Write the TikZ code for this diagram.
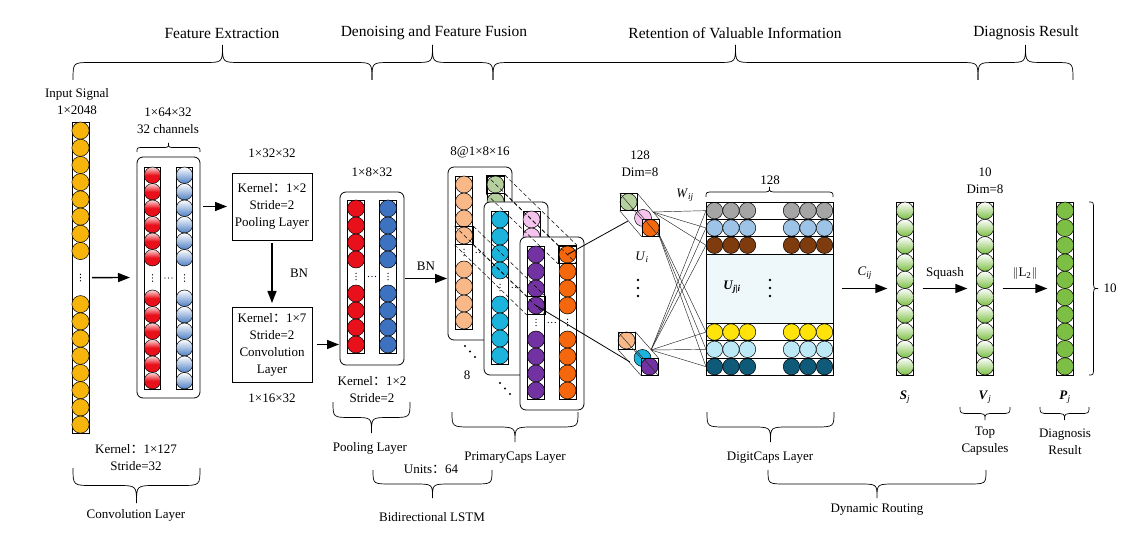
\documentclass[tikz,border=0pt]{standalone}
\usepackage{fontspec}
\setmainfont{Liberation Serif}
\newfontfamily\cjk{Noto Sans CJK SC}
\usetikzlibrary{positioning,arrows.meta}
\definecolor{amarillo}{HTML}{F7B50C}
\definecolor{rojo}{HTML}{E8101A}
\definecolor{azulc}{HTML}{4E7FC4}
\definecolor{azulp}{HTML}{3D72C0}
\definecolor{melocoton}{HTML}{F8B888}
\definecolor{verdeg}{HTML}{B5D09E}
\definecolor{cian}{HTML}{1CB3DD}
\definecolor{rosa}{HTML}{F5C4EE}
\definecolor{morado}{HTML}{7232A2}
\definecolor{naranja}{HTML}{F4670C}
\definecolor{gris}{HTML}{A5A5A5}
\definecolor{azulcl}{HTML}{9DC3E6}
\definecolor{marron}{HTML}{7E3B0E}
\definecolor{amarillo2}{HTML}{FFE30A}
\definecolor{celeste}{HTML}{BDE9F6}
\definecolor{petroleo}{HTML}{0F5A78}
\definecolor{verdev}{HTML}{7CBF44}
\definecolor{fondo}{HTML}{EEF8FB}

\tikzset{
  bola/.style={circle, draw, inner sep=0pt, outer sep=0pt, line width=0.5pt},
  colum/.style={draw, fill=white, inner sep=0pt, outer sep=0pt, anchor=north, line width=0.6pt},
  bloque/.style={draw, fill=white, rounded corners=6pt, inner sep=0pt, outer sep=0pt, line width=0.8pt, anchor=north west},
  caja/.style={draw, fill=white, align=center, inner sep=2pt, outer sep=0pt, line width=0.7pt},
  marco/.style={draw, inner sep=0pt, minimum width=18pt, minimum height=18pt, line width=0.7pt},
  cuadro/.style={draw, inner sep=0pt, minimum size=17pt, line width=0.5pt},
  flecha/.style={-{Triangle[length=12pt,width=9pt]}, line width=1.4pt},
  fina/.style={line width=0.45pt, draw=black!85},
  conexion/.style={line width=0.8pt},
  discont/.style={dash pattern=on 4pt off 2.5pt, line width=0.5pt},
  llaves/.style={line width=0.7pt},
  titulo/.style={font=\fontsize{15.5}{18}\selectfont},
  rojo3d/.style={top color=rojo!15, bottom color=rojo, middle color=rojo},
  azul3d/.style={top color=white, bottom color=azulc},
  verde3d/.style={top color=white, bottom color=verdev},
}

% dos puntos de ancho completo
\newcommand{\dosp}{{\cjk ：}}
% bolas de una columna: x, y arriba, n, diametro, estilo
\newcommand{\bolas}[5]{%
  \foreach \k in {1,...,#3}
    \node[bola, #5, minimum size=#4pt] at (#1,{#2+(\k-0.5)*#4}) {};}
% puntos verticales y horizontales
\newcommand{\puntosv}[2]{\foreach \d in {0,1,2} \fill (#1,{#2+(\d-1)*3.2}) circle (0.7pt);}
\newcommand{\puntosh}[2]{\foreach \d in {0,1,2} \fill ({#1+(\d-1)*3.5},#2) circle (0.7pt);}
% columna: nombre, x, y arriba, diametro, n arriba, hueco, n abajo, estilo
\newcommand{\columna}[8]{%
  \pgfmathsetmacro{\largo}{(#5+#7)*#4+#6}%
  \node[colum, minimum width=#4pt, minimum height=\largo pt] (#1) at (#2,#3) {};
  \bolas{#2}{#3}{#5}{#4}{#8}
  \bolas{#2}{#3+#5*#4+#6}{#7}{#4}{#8}
  \ifdim #6pt>0pt \puntosv{#2}{#3+#5*#4+#6/2}\fi}
% tarjeta de PrimaryCaps: nombre, x, y, color 1, color 2
\newcommand{\tarjeta}[5]{%
  \node[bloque, minimum width=64pt, minimum height=173pt] (#1) at (#2,#3) {};
  \columna{#1a}{#2+16}{#3+9}{17}{4}{17}{4}{fill=#4}
  \columna{#1b}{#2+47.5}{#3+9}{17}{4}{17}{4}{fill=#5}
  \puntosh{#2+31.75}{#3+85.5}}
% llave horizontal: x1, x2, y, altura, curva
\newcommand{\llave}[5]{%
  \draw[llaves] (#1,#3) .. controls (#1,{#3+(#4)/2}) .. ({#1+#5},{#3+(#4)/2})
    -- ({(#1+#2)/2-#5},{#3+(#4)/2}) .. controls ({(#1+#2)/2},{#3+(#4)/2}) .. ({(#1+#2)/2},{#3+(#4)})
    .. controls ({(#1+#2)/2},{#3+(#4)/2}) .. ({(#1+#2)/2+#5},{#3+(#4)/2})
    -- ({#2-#5},{#3+(#4)/2}) .. controls (#2,{#3+(#4)/2}) .. (#2,#3);}
% llave vertical: y1, y2, x, altura, curva
\newcommand{\llavev}[5]{%
  \draw[llaves] (#3,#1) .. controls ({#3+(#4)/2},#1) .. ({#3+(#4)/2},{#1+#5})
    -- ({#3+(#4)/2},{(#1+#2)/2-#5}) .. controls ({#3+(#4)/2},{(#1+#2)/2}) .. ({#3+(#4)},{(#1+#2)/2})
    .. controls ({#3+(#4)/2},{(#1+#2)/2}) .. ({#3+(#4)/2},{(#1+#2)/2+#5})
    -- ({#3+(#4)/2},{#2-#5}) .. controls ({#3+(#4)/2},#2) .. (#3,#2);}

\begin{document}
\begin{tikzpicture}[x=1pt, y=-1pt, font=\fontsize{13}{17}\selectfont]
  \path[fill=white, use as bounding box] (0,0) rectangle (1129,534);

  % etapas
  \node[titulo] (tfe) at (222,33) {Feature Extraction};
  \node[titulo] (tdf) at (434,33) {Denoising and Feature Fusion};
  \node[titulo] (tri) at (735,33) {Retention of Valuable Information};
  \node[titulo] (tdr) at (1026,33) {Diagnosis Result};
  \llave{73}{372}{80}{-35}{18}
  \llave{372}{493}{80}{-35}{18}
  \llave{493}{978}{80}{-35}{18}
  \llave{978}{1073}{80}{-35}{18}

  % senal de entrada
  \node[align=center] (tin) at (77,101.5) {Input Signal\\1×2048};
  \columna{inp}{80.5}{122}{17.2}{8}{36}{8}{fill=amarillo}

  % capa de convolucion
  \node[bloque, minimum width=63pt, minimum height=241pt] (conv) at (137,157) {};
  \columna{cr}{152.5}{167}{16.5}{6}{24}{6}{rojo3d}
  \columna{cb}{184.5}{167}{16.5}{6}{24}{6}{azul3d}
  \puntosh{168.5}{278}
  \llave{137}{200}{152}{-9}{7}
  \node[align=center] (tcv) at (168,121) {1×64×32\\32 channels};
  \node[align=center] (kcv) at (136,458) {Kernel\dosp1×127\\Stride=32};
  \llave{73}{200}{468}{35}{20}
  \node (lcv) at (136,515) {Convolution Layer};
  \draw[flecha, shorten <=3pt, shorten >=7pt] (inp.east) -- (conv.west);

  % pooling y convolucion
  \node (tpb) at (272,153) {1×32×32};
  \node[caja, minimum width=80pt, minimum height=67pt] (pbox) at (272,206.5) {Kernel\dosp1×2\\Stride=2\\Pooling Layer};
  \node[caja, minimum width=80pt, minimum height=75pt] (cbox) at (272,344.5) {Kernel\dosp1×7\\Stride=2\\Convolution\\Layer};
  \node (tcb) at (272,398) {1×16×32};
  \draw[flecha, shorten <=3pt, shorten >=5pt] (conv.east |- pbox.west) -- (pbox.west);
  \draw[flecha, shorten <=3pt, shorten >=4pt] (pbox.south) -- node[right=14pt] {BN} (cbox.north);

  % capa de pooling
  \node[bloque, minimum width=64pt, minimum height=173pt] (pool) at (340,192) {};
  \columna{pr}{356}{200}{17}{4}{17}{4}{fill=rojo}
  \columna{pb}{388}{200}{17}{4}{17}{4}{fill=azulp}
  \puntosh{372}{276.5}
  \node (tpl) at (372,172) {1×8×32};
  \node[align=center] (kpl) at (372,390) {Kernel\dosp1×2\\Stride=2};
  \llave{333}{410}{402}{31}{18}
  \node (lpl) at (370,448) {Pooling Layer};
  \draw[flecha, shorten <=5pt, shorten >=1pt] (cbox.east) -- (cbox.east -| pool.west);

  % PrimaryCaps
  \tarjeta{t1}{448}{167}{melocoton}{verdeg}
  \tarjeta{t2}{484}{202}{cian}{rosa}
  \tarjeta{t3}{520}{237}{morado}{naranja}
  \draw[flecha, shorten <=1pt, shorten >=1pt] (pool.east) -- node[above=4pt] {BN} (pool.east -| t1.west);
  \node[marco] (hV) at (495.5,184.5) {};
  \node[marco] (hN) at (567.5,254.5) {};
  \node[marco] (hP) at (464,235.5) {};
  \node[marco] (hM) at (536,305.5) {};
  \foreach \a in {north west,north east,south west,south east}{
    \draw[discont] (hV.\a) -- (hN.\a);
    \draw[discont] (hP.\a) -- (hM.\a);
  }
  \foreach \p in {0,1,2}{
    \fill ({465+5*\p},{346+5.5*\p}) circle (1.2pt);
    \fill ({500+5*\p},{383+5.5*\p}) circle (1.2pt);
  }
  \node (tca) at (480,152) {8@1×8×16};
  \node (t8) at (467,375) {8};
  \llave{452}{578}{412}{30}{20}
  \node (lpc) at (515,458) {PrimaryCaps Layer};
  \node (tun) at (431,469) {Units\dosp64};
  \llave{373}{492}{470}{28}{18}
  \node (lbl) at (432,517) {Bidirectional LSTM};

  % DigitCaps
  \node[draw, fill=fondo, inner sep=0pt, outer sep=0pt, anchor=north west, minimum width=127pt, minimum height=173pt] (dcaps) at (706,202) {};
  \foreach \y/\c [count=\i] in {202/gris, 219.3/azulcl, 236.6/marron, 323.4/amarillo2, 340.7/celeste, 358/petroleo}{
    \draw[fill=white, line width=0.6pt] (706,\y) rectangle (833,\y+17.3);
    \coordinate (f\i) at (706,\y+8.65);
    \foreach \x in {714.5,731,747.5,791.5,808,824.5}
      \node[bola, fill=\c, minimum size=16.5pt] at (\x,\y+8.65) {};
  }
  \draw[line width=0.7pt] (dcaps.north west) rectangle (dcaps.south east);
  \foreach \d in {0,1,2} \fill (770,{280+8*\d}) circle (1.3pt);
  \node (tuj) at (732,287) {\textbf{\textit{U}}\textsubscript{\textbf{\textit{j\textbar i}}}};
  \llave{706}{833}{197}{-10}{8}
  \node (tdc) at (770,180) {128};
  \llave{707}{834}{412}{30}{20}
  \node (ldc) at (770,458) {DigitCaps Layer};
  \llave{768}{986}{470}{28}{18}
  \node (ldr) at (877,510) {Dynamic Routing};

  % pesos W
  \coordinate (wA) at (653,212);
  \coordinate (wA2) at (657,230);
  \coordinate (wB) at (651,350);
  \foreach \f in {1,2,3}{\draw[fina] (wA) -- (f\f); \draw[fina] (wB) -- (f\f);}
  \foreach \f in {4,5,6}{\draw[fina] (wA2) -- (f\f); \draw[fina] (wB) -- (f\f);}

  % capsulas U_i
  \node[bola, fill=verdeg, minimum size=17pt] (cV) at (628.5,202) {};
  \node[bola, fill=rosa, minimum size=17pt] (cR) at (643,218) {};
  \node[bola, fill=naranja, minimum size=17pt] (cN) at (650.5,228) {};
  \node[cuadro] (qV) at (628.5,202) {};
  \node[cuadro] (qN) at (650.5,228) {};
  \node[bola, fill=melocoton, minimum size=17pt] (cP) at (626.5,340.5) {};
  \node[bola, fill=cian, minimum size=17pt] (cC) at (642.5,358) {};
  \node[bola, fill=morado, minimum size=17pt] (cM) at (649.5,366.5) {};
  \node[cuadro] (qP) at (626.5,340.5) {};
  \node[cuadro] (qM) at (649.5,366.5) {};
  \foreach \a in {north west,north east,south west,south east}{
    \draw[fina] (qV.\a) -- (qN.\a);
    \draw[fina] (qP.\a) -- (qM.\a);
  }
  \coordinate (eA) at (628,221);
  \coordinate (eB) at (630,362);
  \draw[conexion] (hN.center) -- (eA);
  \draw[conexion] (hM.center) -- (eB);
  \foreach \d in {0,1,2} \fill (638,{280+8*\d}) circle (1.3pt);
  \node[align=center] (tpc) at (640,164) {128\\Dim=8};
  \node (tui) at (642,257) {\textit{U}\textsubscript{\textit{i}}};
  \node (twij) at (685,195) {\textit{W}\textsubscript{\textit{ij}}};

  % capsulas superiores y resultado
  \columna{sj}{905}{202}{17.3}{5}{0}{5}{verde3d}
  \columna{vj}{985}{202}{17.3}{5}{0}{5}{verde3d}
  \columna{pj}{1065}{202}{17.3}{5}{0}{5}{fill=verdev}
  \draw[flecha, shorten <=9pt, shorten >=9pt] (dcaps.east) -- node[above=5pt] {\textit{C}\textsubscript{\textit{ij}}} (sj.west);
  \draw[flecha, shorten <=9pt, shorten >=9pt] (sj.east) -- node[above=5pt] {Squash} (vj.west);
  \draw[flecha, shorten <=9pt, shorten >=9pt] (vj.east) -- node[above=5pt] {$\|$L\textsubscript{2}$\|$} (pj.west);
  \node[align=center] (tvd) at (985,181) {10\\Dim=8};
  \node (tsj) at (905,397) {\textbf{\textit{S}}\textsubscript{\textit{j}}};
  \node (tvj) at (985,397) {\textbf{\textit{V}}\textsubscript{\textit{j}}};
  \node (tpj) at (1065,397) {\textbf{\textit{P}}\textsubscript{\textit{j}}};
  \llave{960}{1010}{407}{13}{10}
  \node[align=center] (ltc) at (985,441.5) {Top\\Capsules};
  \llave{1040}{1089}{407}{13}{10}
  \node[align=center] (lres) at (1065,441.5) {Diagnosis\\Result};
  \llavev{202}{375}{1089}{9}{8}
  \node (t10) at (1110,288) {10};
\end{tikzpicture}
\end{document}
